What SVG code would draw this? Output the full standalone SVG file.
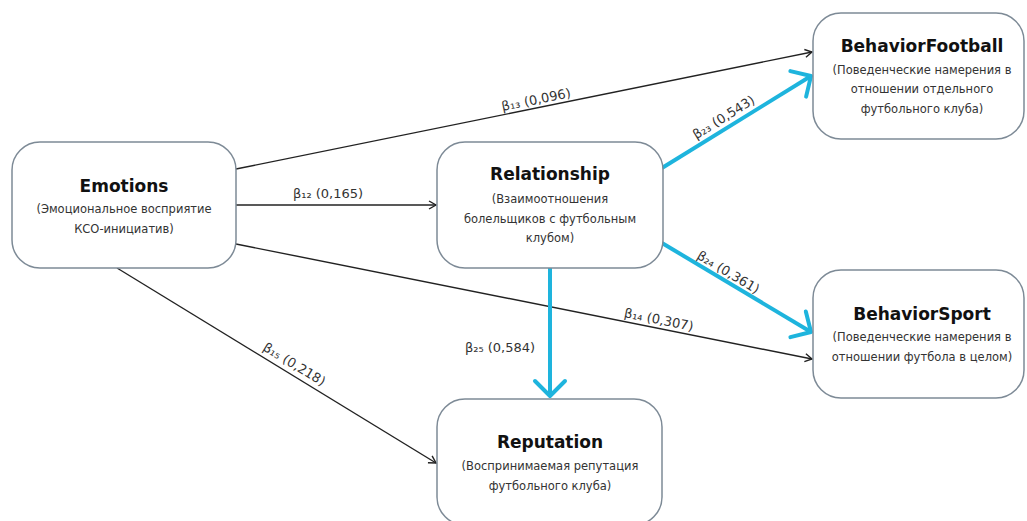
<svg xmlns="http://www.w3.org/2000/svg" width="1027" height="521" viewBox="0 0 1027 521">
<style>
.box{fill:#fff;stroke:#7d8a96;stroke-width:1.5}
.title{font-family:"DejaVu Sans",Verdana,sans-serif;font-weight:bold;font-size:17px;fill:#111;text-anchor:middle}
.sub{font-family:"DejaVu Sans",Verdana,sans-serif;font-size:11.5px;fill:#333;text-anchor:middle}
.lbl{font-family:"DejaVu Sans",Verdana,sans-serif;font-size:13px;fill:#333;text-anchor:middle}
.thin{fill:none;stroke:#222;stroke-width:1.4}
.cyan{fill:none;stroke:#1eb4dd;stroke-width:4}
</style>
<defs>
<marker id="ah" markerUnits="userSpaceOnUse" markerWidth="12" markerHeight="12" viewBox="-10 -6 12 12" refX="0" refY="0" orient="auto">
<path d="M-7,-4 L0,0 L-7,4" fill="none" stroke="#222" stroke-width="1.4"/>
</marker>
<marker id="ahc" markerUnits="userSpaceOnUse" markerWidth="30" markerHeight="40" viewBox="-20 -20 24 40" refX="0" refY="0" orient="auto">
<path d="M-15,-15 L0,0 L-15,15" fill="none" stroke="#1eb4dd" stroke-width="4" stroke-linecap="round" stroke-linejoin="round"/>
</marker>
</defs>

<g id="connectors">
<line class="thin" x1="236" y1="169" x2="812" y2="52" marker-end="url(#ah)"/>
<line class="thin" x1="236" y1="205" x2="436" y2="205" marker-end="url(#ah)"/>
<line class="thin" x1="236" y1="244" x2="812" y2="359" marker-end="url(#ah)"/>
<line class="thin" x1="117" y1="268" x2="436" y2="463" marker-end="url(#ah)"/>
<line class="cyan" x1="662" y1="168" x2="811" y2="76" marker-end="url(#ahc)"/>
<line class="cyan" x1="662" y1="243" x2="811" y2="332" marker-end="url(#ahc)"/>
<line class="cyan" x1="550" y1="268" x2="550" y2="396" marker-end="url(#ahc)"/>
<text class="lbl" transform="translate(537,104) rotate(-11.5)">β₁₃ (0,096)</text>
<text class="lbl" x="328" y="198">β₁₂ (0,165)</text>
<text class="lbl" transform="translate(658,324) rotate(11.3)">β₁₄ (0,307)</text>
<text class="lbl" transform="translate(292,368) rotate(31.4)">β₁₅ (0,218)</text>
<text class="lbl" transform="translate(726,121) rotate(-31.8)">β₂₃ (0,543)</text>
<text class="lbl" transform="translate(726,276) rotate(31)">β₂₄ (0,361)</text>
<text class="lbl" x="500" y="352">β₂₅ (0,584)</text>
</g>

<g id="emotions">
<rect class="box" x="12" y="142" width="224" height="126" rx="28"/>
<text class="title" x="124" y="192">Emotions</text>
<text class="sub" x="124" y="213">(Эмоциональное восприятие</text>
<text class="sub" x="124" y="233">КСО-инициатив)</text>
</g>

<g id="relationship">
<rect class="box" x="437" y="142" width="226" height="126" rx="28"/>
<text class="title" x="550" y="180">Relationship</text>
<text class="sub" x="550" y="203">(Взаимоотношения</text>
<text class="sub" x="550" y="223">болельщиков с футбольным</text>
<text class="sub" x="550" y="242">клубом)</text>
</g>

<g id="behaviorfootball">
<rect class="box" x="813" y="13" width="211" height="126" rx="28"/>
<text class="title" x="922" y="52">BehaviorFootball</text>
<text class="sub" x="922" y="74">(Поведенческие намерения в</text>
<text class="sub" x="922" y="93">отношении отдельного</text>
<text class="sub" x="922" y="113">футбольного клуба)</text>
</g>

<g id="behaviorsport">
<rect class="box" x="813" y="270" width="211" height="128" rx="28"/>
<text class="title" x="922" y="320">BehaviorSport</text>
<text class="sub" x="922" y="341">(Поведенческие намерения в</text>
<text class="sub" x="922" y="361">отношении футбола в целом)</text>
</g>

<g id="reputation">
<rect class="box" x="437" y="399" width="225" height="126" rx="28"/>
<text class="title" x="550" y="448">Reputation</text>
<text class="sub" x="550" y="470">(Воспринимаемая репутация</text>
<text class="sub" x="550" y="490">футбольного клуба)</text>
</g>
</svg>
